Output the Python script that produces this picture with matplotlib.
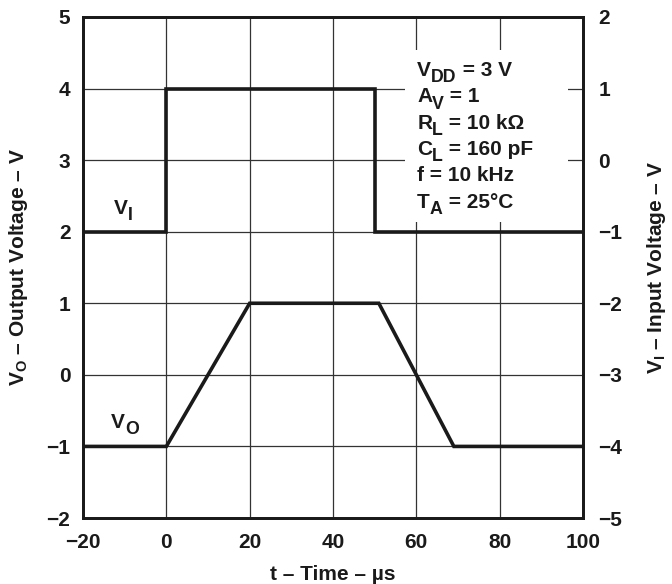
import matplotlib
matplotlib.use("Agg")
import matplotlib.pyplot as plt
from matplotlib.patches import Rectangle

# Data ------------------------------------------------------------------------
t_vi = [-20, 0, 0, 50, 50, 100]
vi = [-1, -1, 1, 1, -1, -1]          # input voltage, right axis
t_vo = [-20, 0, 20, 51, 69, 100]
vo = [-1, -1, 1, 1, -1, -1]          # output voltage, left axis

x_ticks = [-20, 0, 20, 40, 60, 80, 100]
vo_ticks = [-2, -1, 0, 1, 2, 3, 4, 5]
vi_ticks = [-5, -4, -3, -2, -1, 0, 1, 2]

# (text, is_subscript) pieces for each line of test conditions
conditions = [[("V", False), ("DD", True), (" = 3 V", False)],
              [("A", False), ("V", True), (" = 1", False)],
              [("R", False), ("L", True), (" = 10 kΩ", False)],
              [("C", False), ("L", True), (" = 160 pF", False)],
              [("f = 10 kHz", False)],
              [("T", False), ("A", True), (" = 25°C", False)]]

# Style -----------------------------------------------------------------------
plt.rcParams["font.family"] = ["Liberation Sans", "DejaVu Sans"]
plt.rcParams["font.weight"] = "bold"
plt.rcParams["axes.labelweight"] = "bold"
plt.rcParams["mathtext.fontset"] = "custom"
plt.rcParams["mathtext.bf"] = "Liberation Sans:bold"
plt.rcParams["mathtext.rm"] = "Liberation Sans:bold"
plt.rcParams["mathtext.it"] = "Liberation Sans:bold"
plt.rcParams["mathtext.default"] = "bf"

FS = 15
INK = "#1a1a1a"

fig = plt.figure(figsize=(6.72, 5.84), dpi=100)
ax = fig.add_axes([0.1235, 0.113, 0.8676 - 0.1235, 0.971 - 0.113])
ax2 = ax.twinx()
renderer = fig.canvas.get_renderer()


def sub_text(x, y, parts, fs=FS):
    # draw text piece by piece so the subscripts sit low and stay big
    dx = 0.0
    for s, sub in parts:
        size = fs * 0.85 if sub else fs
        dy = -0.3 * fs if sub else 0.0
        t = ax.annotate(s, (x, y), xytext=(dx, dy), textcoords="offset points",
                        fontsize=size, fontweight="bold", color=INK,
                        ha="left", va="baseline", zorder=4)
        dx += t.get_window_extent(renderer).width * 72.0 / fig.dpi


ax.set_xlim(-20, 100)
ax.set_ylim(-2, 5)
ax2.set_ylim(-5, 2)
ax.set_xticks(x_ticks)
ax.set_yticks(vo_ticks)
ax2.set_yticks(vi_ticks)

ax.grid(True, color="#333333", lw=0.9)
ax.set_axisbelow(True)

for a in (ax, ax2):
    for s in a.spines.values():
        s.set_linewidth(2.0)
        s.set_color(INK)
ax.tick_params(axis="both", length=0, labelsize=FS, labelcolor=INK)
ax.tick_params(axis="x", pad=11)
ax.tick_params(axis="y", pad=9)
ax2.tick_params(axis="y", length=0, labelsize=FS, pad=11, labelcolor=INK)

# white box behind the test conditions
ax.add_patch(Rectangle((57.3, 2.14), 96.4 - 57.3, 4.54 - 2.14,
                       facecolor="white", edgecolor="none", zorder=1.5))

ax.plot(t_vo, vo, color=INK, lw=2.6, zorder=3, solid_joinstyle="miter")
ax2.plot(t_vi, vi, color=INK, lw=2.6, zorder=3, solid_joinstyle="miter")

sub_text(-12.6, 2.25, [("V", False), ("I", True)])
sub_text(-13.3, -0.74, [("V", False), ("O", True)])

y0 = 4.176
for i, parts in enumerate(conditions):
    sub_text(60.2, y0 - i * 0.3686, parts)

ax.set_xlabel("t – Time – µs", fontsize=FS, color=INK, labelpad=9)
ax.set_ylabel(r"$\mathbf{V_{O}}$ – Output Voltage – V", fontsize=FS,
              color=INK, labelpad=12)
ax2.set_ylabel(r"$\mathbf{V_{I}}$ – Input Voltage – V", fontsize=FS,
               color=INK, labelpad=16)

fig.savefig("out.png", dpi=100)
